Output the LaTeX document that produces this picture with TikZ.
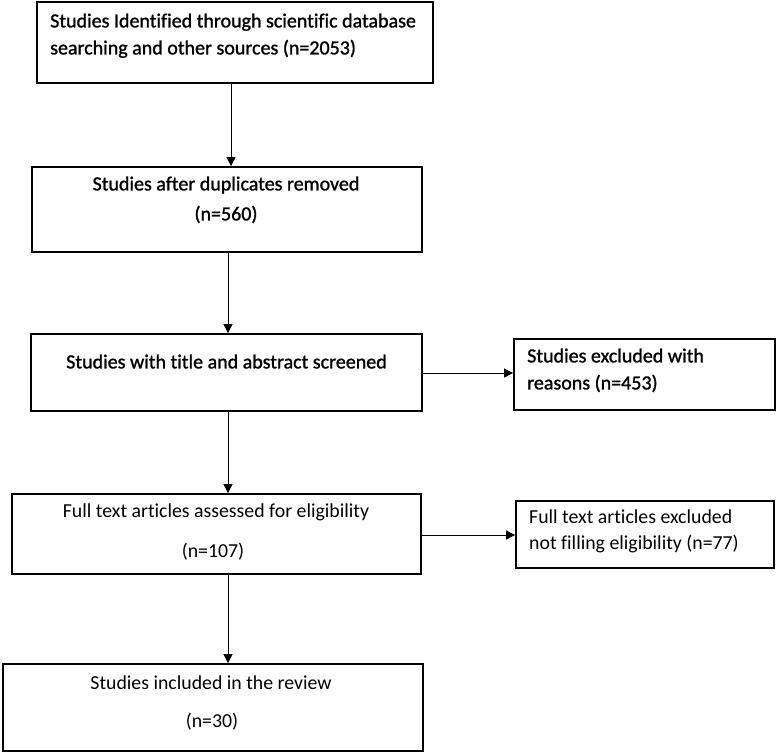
\documentclass[tikz,border=0pt]{standalone}
\usepackage{fontspec}
\setmainfont{Carlito}[Ligatures={NoCommon}]
\newfontfamily\semibold{Carlito}[Ligatures={NoCommon}, FakeBold=1.2]
\usetikzlibrary{arrows.meta}
\begin{document}
\begin{tikzpicture}[x=1pt,y=-1pt,
  box/.style={draw=black, line width=1.8pt, inner sep=0pt, fill=white},
  arr/.style={-{Triangle[length=9pt,width=9pt]}, line width=0.8pt, draw=black},
  txt/.style={font=\fontsize{19.8}{22}\selectfont, inner sep=0pt},
  btxt/.style={txt, font=\fontsize{20}{22}\selectfont\semibold},
]
\useasboundingbox (0,0) rectangle (778,753);
% boxes
\node[box, minimum width=396pt, minimum height=81pt] (b1) at (235,42.5) {};
\node[box, minimum width=390pt, minimum height=85pt] (b2) at (227,209.5) {};
\node[box, minimum width=391pt, minimum height=77pt] (b3) at (226.5,372.5) {};
\node[box, minimum width=409pt, minimum height=80pt] (b4) at (216.5,534) {};
\node[box, minimum width=420pt, minimum height=87pt] (b5) at (213,707.5) {};
\node[box, minimum width=261pt, minimum height=71pt] (ra) at (644.5,374.5) {};
\node[box, minimum width=258pt, minimum height=67pt] (rb) at (645,534.5) {};
% texts
\node[btxt, anchor=mid west] (t1a) at (50,25) {Studies Identified through scientific database};
\node[btxt, anchor=mid west] (t1b) at (50,52) {searching and other sources (n=2053)};
\node[btxt, anchor=mid] (t2a) at (226,188) {Studies after duplicates removed};
\node[btxt, anchor=mid] (t2b) at (226,218) {(n=560)};
\node[btxt, anchor=mid] (t3a) at (226.5,366) {Studies with title and abstract screened};
\node[txt, anchor=mid] (t4a) at (216,515) {Full text articles assessed for eligibility};
\node[txt, anchor=mid] (t4b) at (213,555) {(n=107)};
\node[txt, anchor=mid] (t5a) at (211,687) {Studies included in the review};
\node[txt, anchor=mid] (t5b) at (212,725) {(n=30)};
\node[btxt, anchor=mid west] (tra) at (527,360) {Studies excluded with};
\node[btxt, anchor=mid west] (trb) at (527,387) {reasons (n=453)};
\node[txt, anchor=mid west] (trc) at (529,521) {Full text articles excluded};
\node[txt, anchor=mid west] (trd) at (529,547) {not filling eligibility (n=77)};
% arrows
\draw[arr] (231,0 |- b1.south) -- (231,0 |- b2.north);
\draw[arr] (228,0 |- b2.south) -- (228,0 |- b3.north);
\draw[arr] (228,0 |- b3.south) -- (228,0 |- b4.north);
\draw[arr] (228,0 |- b4.south) -- (228,0 |- b5.north);
\draw[arr] (b3.east |- 0,373) -- (ra.west |- 0,373);
\draw[arr] (b4.east |- 0,535) -- (rb.west |- 0,535);
\end{tikzpicture}
\end{document}
